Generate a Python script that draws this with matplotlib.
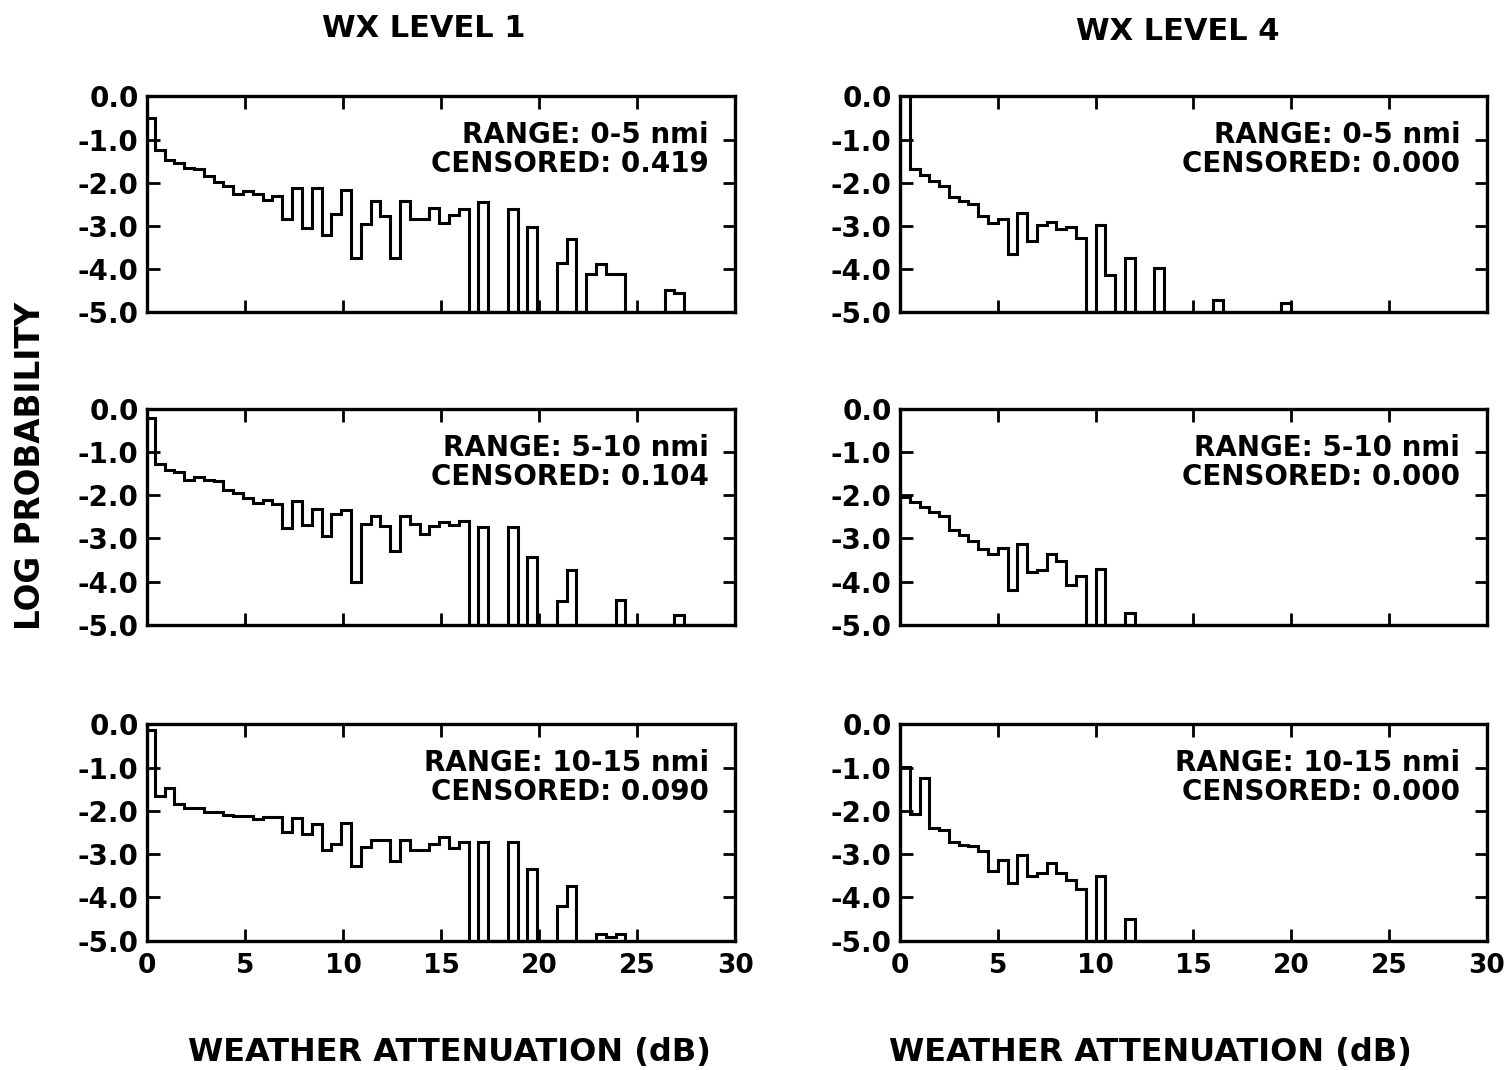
import numpy as np
import matplotlib
matplotlib.use("Agg")
import matplotlib.pyplot as plt

plt.rcParams['font.family'] = ['DejaVu Sans']
plt.rcParams['font.weight'] = 'bold'

# ---- data: log probability per 0.5 dB attenuation bin (-5.0 = empty bin) ----
EMPTY = -5.0
E = EMPTY

# bin edges (dB); the left column histograms sit about 0.1 dB left of the right ones
edges_wx1 = np.arange(61) * 0.5 - 0.1
edges_wx4 = np.arange(61) * 0.5

wx1_0_5 = [-0.5, -1.25, -1.48, -1.55, -1.67, -1.69, -1.84, -1.98, -2.07, -2.25,
           -2.19, -2.25, -2.4, -2.3, -2.83, -2.12, -3.04, -2.11, -3.21, -2.73,
           -2.16, -3.75, -2.96, -2.42, -2.76, -3.75, -2.42, -2.83, -2.83, -2.58,
           -2.94, -2.75, -2.6, E, -2.44, E, E, -2.6, E, -3.02,
           E, E, -3.86, -3.29, E, -4.12, -3.88, -4.1, -4.1, E,
           E, E, E, -4.49, -4.54, E, E, E, E, E]

wx1_5_10 = [-0.22, -1.28, -1.41, -1.46, -1.64, -1.58, -1.64, -1.68, -1.89, -1.95,
            -2.06, -2.18, -2.11, -2.21, -2.75, -2.14, -2.69, -2.31, -2.94, -2.44,
            -2.35, -4.0, -2.67, -2.48, -2.71, -3.29, -2.47, -2.67, -2.89, -2.72,
            -2.62, -2.7, -2.6, E, -2.74, E, E, -2.74, E, -3.44,
            E, E, -4.44, -3.73, E, E, E, E, -4.42, E,
            E, E, E, E, -4.78, E, E, E, E, E]

wx1_10_15 = [-0.13, -1.66, -1.48, -1.84, -1.94, -1.94, -2.02, -2.02, -2.1, -2.13,
             -2.13, -2.19, -2.15, -2.15, -2.48, -2.17, -2.53, -2.3, -2.91, -2.76,
             -2.29, -3.28, -2.84, -2.68, -2.68, -3.15, -2.68, -2.91, -2.91, -2.76,
             -2.61, -2.86, -2.73, E, -2.73, E, E, -2.73, E, -3.34,
             E, E, -4.2, -3.74, E, E, -4.85, -4.92, -4.85, E,
             E, E, E, E, E, E, E, E, E, E]

wx4_0_5 = [0.0, -1.69, -1.83, -1.96, -2.07, -2.32, -2.42, -2.5, -2.77, -2.93,
           -2.85, -3.64, -2.69, -3.35, -2.97, -2.91, -3.08, -3.02, -3.27, E,
           -2.97, -4.13, E, -3.74, E, E, -3.97, E, E, E,
           E, E, -4.71, E, E, E, E, E, E, -4.79,
           E, E, E, E, E, E, E, E, E, E,
           E, E, E, E, E, E, E, E, E, E]

wx4_5_10 = [-2.04, -2.15, -2.27, -2.38, -2.49, -2.8, -2.91, -3.06, -3.25, -3.36,
            -3.21, -4.2, -3.14, -3.78, -3.73, -3.36, -3.52, -4.08, -3.86, E,
            -3.7, E, E, -4.73, E, E, E, E, E, E,
            E, E, E, E, E, E, E, E, E, E,
            E, E, E, E, E, E, E, E, E, E,
            E, E, E, E, E, E, E, E, E, E]

wx4_10_15 = [-0.98, -2.07, -1.25, -2.4, -2.45, -2.71, -2.78, -2.82, -2.94, -3.4,
             -3.13, -3.67, -3.01, -3.51, -3.44, -3.21, -3.44, -3.61, -3.8, E,
             -3.51, E, E, -4.5, E, E, E, E, E, E,
             E, E, E, E, E, E, E, E, E, E,
             E, E, E, E, E, E, E, E, E, E,
             E, E, E, E, E, E, E, E, E, E]

ranges = ["0-5", "5-10", "10-15"]
censored_wx1 = ["0.419", "0.104", "0.090"]
censored_wx4 = ["0.000", "0.000", "0.000"]

yticks = [0.0, -1.0, -2.0, -3.0, -4.0, -5.0]
ytick_labels = ["0.0", "-1.0", "-2.0", "-3.0", "-4.0", "-5.0"]
xticks = [0, 5, 10, 15, 20, 25, 30]


fig = plt.figure(figsize=(15.08, 10.70), dpi=100)

col_x = [0.0975, 0.5968]
col_w = [0.390, 0.389]
row_y = [0.708, 0.416, 0.121]
row_h = 0.202

columns = [(edges_wx1, [wx1_0_5, wx1_5_10, wx1_10_15], censored_wx1),
           (edges_wx4, [wx4_0_5, wx4_5_10, wx4_10_15], censored_wx4)]

for c, (edges, series, cens) in enumerate(columns):
    for r in range(3):
        ax = fig.add_axes([col_x[c], row_y[r], col_w[c], row_h])
        ax.stairs(series[r], edges, baseline=EMPTY, fill=False,
                  color='black', linewidth=2.2)
        ax.set_xlim(0, 30)
        ax.set_ylim(-5.0, 0.0)
        ax.set_xticks(xticks)
        ax.set_yticks(yticks)
        ax.set_yticklabels(ytick_labels)
        ax.tick_params(direction='in', length=9, width=2,
                       top=True, right=True, labelsize=20, pad=6)
        if r < 2:
            ax.set_xticklabels([])
        else:
            ax.tick_params(axis='x', labelsize=19, pad=9)
        for s in ax.spines.values():
            s.set_linewidth(2.4)
        ax.text(0.955, 0.82, "RANGE: " + ranges[r] + " nmi",
                transform=ax.transAxes, ha='right', va='center',
                fontsize=20, fontweight='bold')
        ax.text(0.955, 0.685, "CENSORED: " + cens[r],
                transform=ax.transAxes, ha='right', va='center',
                fontsize=20, fontweight='bold')

fig.text(0.281, 0.973, "WX LEVEL 1", ha='center', va='center',
         fontsize=22, fontweight='bold')
fig.text(0.781, 0.971, "WX LEVEL 4", ha='center', va='center',
         fontsize=22, fontweight='bold')
fig.text(0.020, 0.565, "LOG PROBABILITY", rotation=90, ha='center',
         va='center', fontsize=23.5, fontweight='bold')
fig.text(0.298, 0.016, "WEATHER ATTENUATION (dB)", ha='center',
         va='center', fontsize=23, fontweight='bold')
fig.text(0.763, 0.016, "WEATHER ATTENUATION (dB)", ha='center',
         va='center', fontsize=23, fontweight='bold')

fig.savefig("out.png", dpi=100, facecolor='white')
